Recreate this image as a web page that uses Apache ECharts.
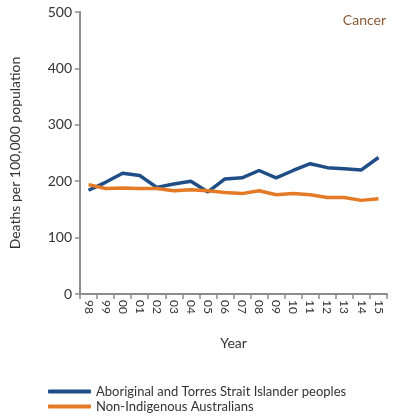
<!DOCTYPE html>
<html>
<head>
<meta charset="utf-8">
<script src="https://cdn.jsdelivr.net/npm/echarts@6/dist/echarts.min.js"></script>
<style>
  html, body { margin: 0; padding: 0; background: #fff; }
  #chart { width: 396px; height: 419px; }
</style>
</head>
<body>
<div id="chart"></div>
<script>
const years = ['98', '99', '00', '01', '02', '03', '04', '05', '06', '07', '08', '09', '10', '11', '12', '13', '14', '15']
const indigenous = [184, 198, 214, 210, 189, 195, 200, 181, 204, 206, 219, 206, 219, 231, 224, 222, 220, 242]
const nonIndigenous = [194, 187, 188, 187, 187, 183, 185, 183, 180, 178, 183, 176, 178, 176, 171, 171, 166, 169]
const yTicks = [0, 100, 200, 300, 400, 500]

const font = 'Lato, "Open Sans", sans-serif'
const axisGray = '#8c8c8c'

const chart = echarts.init(document.getElementById('chart'))

chart.setOption({
  animation: false,
  textStyle: { fontFamily: font },
  title: {
    text: 'Cancer',
    right: 5,
    top: 8,
    textStyle: { fontFamily: font, fontSize: 14, fontWeight: 'normal', color: '#8a5a35' }
  },
  grid: { left: 75, right: 9, top: 12, bottom: 125 },
  legend: {
    orient: 'vertical',
    left: 48,
    top: 385,
    padding: 0,
    icon: 'roundRect',
    itemWidth: 43,
    itemHeight: 4,
    itemGap: 2,
    textStyle: { fontFamily: font, fontSize: 13, color: '#333' },
    data: ['Aboriginal and Torres Strait Islander peoples', 'Non-Indigenous Australians']
  },
  xAxis: {
    type: 'category',
    data: years,
    boundaryGap: true,
    name: 'Year',
    nameLocation: 'middle',
    nameGap: 42,
    nameTextStyle: { fontFamily: font, fontSize: 14, color: '#333' },
    axisLine: { lineStyle: { color: axisGray, width: 2 } },
    axisTick: { show: true, length: 5, alignWithLabel: false, lineStyle: { color: axisGray, width: 1.5 } },
    axisLabel: { rotate: -90, fontSize: 12, color: '#333', margin: 6 },
    splitLine: { show: false }
  },
  yAxis: {
    type: 'value',
    min: 0,
    max: 500,
    interval: 100,
    name: 'Deaths per 100,000 population',
    nameLocation: 'middle',
    nameGap: 58,
    nameTextStyle: { fontFamily: font, fontSize: 14, color: '#333' },
    axisLine: { show: true, lineStyle: { color: axisGray, width: 2 } },
    axisTick: { show: true, length: 5, lineStyle: { color: axisGray, width: 1.5 } },
    axisLabel: {
      fontSize: 14,
      color: '#333',
      margin: 8,
      formatter: v => (yTicks.includes(v) ? String(v) : '')
    },
    splitLine: { show: false }
  },
  series: [
    {
      name: 'Aboriginal and Torres Strait Islander peoples',
      type: 'line',
      data: indigenous,
      symbol: 'none',
      color: '#1f4e87',
      lineStyle: { width: 3.5, color: '#1f4e87' }
    },
    {
      name: 'Non-Indigenous Australians',
      type: 'line',
      data: nonIndigenous,
      symbol: 'none',
      color: '#e57a26',
      lineStyle: { width: 3.5, color: '#e57a26' }
    }
  ]
})
</script>
</body>
</html>
